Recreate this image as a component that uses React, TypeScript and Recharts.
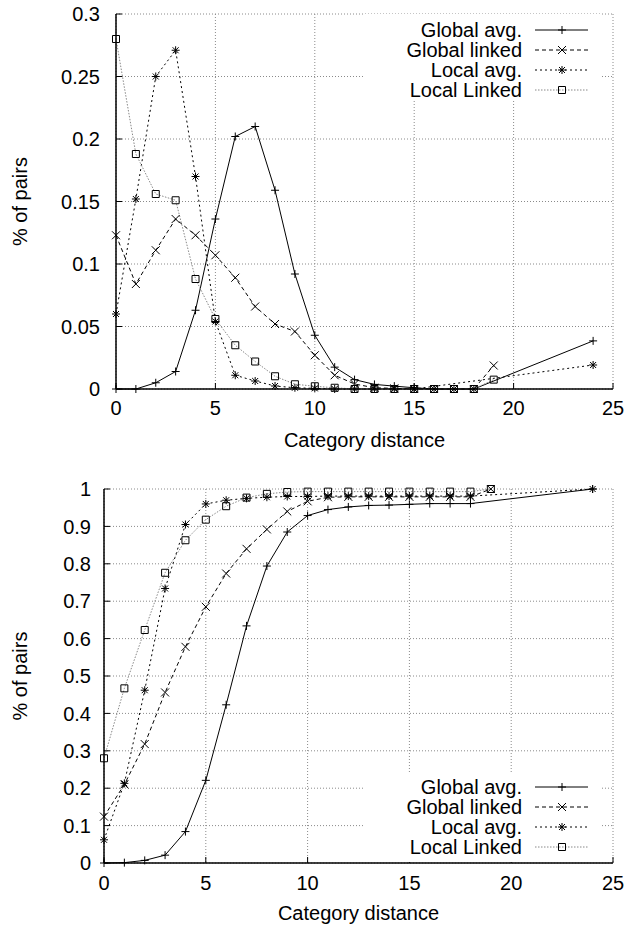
import React from "react";
import { LineChart, Line, XAxis, YAxis, CartesianGrid, Legend } from "recharts";

// x positions (category distance) used by the series
const xUpTo18And24 = [0, 1, 2, 3, 4, 5, 6, 7, 8, 9, 10, 11, 12, 13, 14, 15, 16, 17, 18, 24];
const xUpTo19 = [0, 1, 2, 3, 4, 5, 6, 7, 8, 9, 10, 11, 12, 13, 14, 15, 16, 17, 18, 19];
const xUpTo15And24 = [0, 1, 2, 3, 4, 5, 6, 7, 8, 9, 10, 11, 12, 13, 14, 15, 24];

// top panel: share of pairs per distance
const globalAvgShare = [0, 0, 0.005, 0.014, 0.063, 0.136, 0.202, 0.21, 0.159, 0.092, 0.043, 0.0175, 0.0075, 0.0037, 0.0023, 0.001, 0, 0, 0, 0.0385];
const globalLinkedShare = [0.123, 0.084, 0.111, 0.136, 0.123, 0.107, 0.089, 0.066, 0.052, 0.046, 0.027, 0.011, 0.004, 0.001, 0.0005, 0, 0, 0, 0, 0.0188];
const localAvgShare = [0.06, 0.152, 0.25, 0.271, 0.17, 0.054, 0.011, 0.0064, 0.0024, 0.001, 0.0005, 0, 0, 0, 0, 0, 0.0192];
const localLinkedShare = [0.28, 0.188, 0.156, 0.151, 0.088, 0.056, 0.035, 0.022, 0.0102, 0.0038, 0.0022, 0.001, 0, 0, 0, 0, 0, 0, 0, 0.0075];

// bottom panel: cumulative share
const globalAvgCum = [0, 0.001, 0.007, 0.021, 0.084, 0.221, 0.423, 0.634, 0.794, 0.885, 0.929, 0.945, 0.952, 0.956, 0.957, 0.959, 0.961, 0.961, 0.961, 1.0];
const globalLinkedCum = [0.124, 0.21, 0.318, 0.456, 0.578, 0.685, 0.774, 0.84, 0.892, 0.94, 0.967, 0.978, 0.979, 0.979, 0.979, 0.979, 0.979, 0.979, 0.979, 1.0];
const localAvgCum = [0.062, 0.213, 0.462, 0.734, 0.905, 0.96, 0.97, 0.975, 0.978, 0.98, 0.98, 0.981, 0.981, 0.981, 0.981, 0.981, 0.981, 0.981, 0.981, 1.0];
const localLinkedCum = [0.28, 0.467, 0.623, 0.776, 0.863, 0.918, 0.954, 0.977, 0.987, 0.992, 0.993, 0.993, 0.993, 0.993, 0.993, 0.993, 0.993, 0.993, 0.993, 1.0];

const xTicks = [0, 5, 10, 15, 20, 25];
const shareTicks = [0, 0.05, 0.1, 0.15, 0.2, 0.25, 0.3];
const cumTicks = [0, 0.1, 0.2, 0.3, 0.4, 0.5, 0.6, 0.7, 0.8, 0.9, 1];

const FONT = '"Liberation Sans", Arial, sans-serif';
const FS = 20;

const toPoints = (xs: number[], ys: number[]) => xs.map((x, i) => ({ x, y: ys[i] }));

type Marker = "plus" | "cross" | "star" | "square";

function markerPath(kind: Marker, cx: number, cy: number) {
  const r = 4;
  if (kind === "plus") return `M${cx - r},${cy}h${2 * r}M${cx},${cy - r}v${2 * r}`;
  if (kind === "cross") return `M${cx - r},${cy - r}l${2 * r},${2 * r}M${cx - r},${cy + r}l${2 * r},${-2 * r}`;
  if (kind === "star")
    return `M${cx - r},${cy}h${2 * r}M${cx},${cy - r}v${2 * r}M${cx - 3},${cy - 3}l6,6M${cx - 3},${cy + 3}l6,-6`;
  const s = 3.5;
  return `M${cx - s},${cy - s}h${2 * s}v${2 * s}h${-2 * s}z`;
}

const makeDot = (kind: Marker) => (props: any) => {
  const { cx, cy, index } = props;
  if (cx == null || cy == null) return <g key={index} />;
  return <path key={index} d={markerPath(kind, cx, cy)} stroke="#000" strokeWidth={1} fill="none" />;
};

const XTick = ({ x, y, payload }: any) => (
  <text x={x} y={y} dy="0.71em" textAnchor="middle" fontSize={FS} fontFamily={FONT} fill="#000">
    {payload.value}
  </text>
);

const YTick = ({ x, y, payload }: any) => (
  <text x={x} y={y} dy="0.355em" textAnchor="end" fontSize={FS} fontFamily={FONT} fill="#000">
    {payload.value}
  </text>
);

interface SeriesStyle {
  name: string;
  marker: Marker;
  stroke: string;
  dash?: string;
}

const seriesStyles: SeriesStyle[] = [
  { name: "Global avg.", marker: "plus", stroke: "#000" },
  { name: "Global linked", marker: "cross", stroke: "#000", dash: "4 3" },
  { name: "Local avg.", marker: "star", stroke: "#000", dash: "2 3" },
  { name: "Local Linked", marker: "square", stroke: "#888", dash: "1.5 1.5" },
];

const LegendBox = ({ paddingTop, height }: { paddingTop: number; height: number }) => (
  <div
    style={{
      background: "#fff",
      width: 237,
      height,
      paddingTop,
      boxSizing: "border-box",
      fontFamily: FONT,
      fontSize: FS,
      color: "#000",
    }}
  >
    {seriesStyles.map((s) => (
      <div key={s.name} style={{ display: "flex", alignItems: "center", height: 20 }}>
        <span style={{ width: 159, textAlign: "right", whiteSpace: "nowrap", lineHeight: "20px" }}>{s.name}</span>
        <svg width={53} height={20} style={{ marginLeft: 13, display: "block" }}>
          <line x1={0} x2={53} y1={10} y2={10} stroke={s.stroke} strokeDasharray={s.dash} strokeWidth={1} />
          <path d={markerPath(s.marker, 27, 10)} stroke="#000" strokeWidth={1} fill="none" />
        </svg>
      </div>
    ))}
  </div>
);

interface PanelProps {
  data: { x: number; y: number }[][];
  yDomain: [number, number];
  yTicks: number[];
  height: number;
  marginTop: number;
  yAxisWidth: number;
  xAxisHeight: number;
  xTickMargin: number;
  yTickMargin: number;
  xLabelOffset: number;
  legendTop: number;
  legendHeight: number;
  legendPad: number;
}

function Panel(p: PanelProps) {
  const axisLine = { stroke: "#000", strokeWidth: 1.5 };
  const tickLine = { stroke: "#000" };
  return (
    <LineChart width={631} height={p.height} margin={{ top: p.marginTop, right: 18, left: 0, bottom: 0 }}>
      <CartesianGrid stroke="#8a8a8a" strokeDasharray="1 2" />
      <XAxis
        dataKey="x"
        type="number"
        domain={[0, 25]}
        ticks={xTicks}
        interval={0}
        height={p.xAxisHeight}
        tick={<XTick />}
        tickSize={-6}
        tickMargin={p.xTickMargin}
        axisLine={axisLine}
        tickLine={tickLine}
        allowDuplicatedCategory={false}
        label={{
          value: "Category distance",
          position: "insideBottom",
          offset: p.xLabelOffset,
          style: { fill: "#000", fontSize: FS, fontFamily: FONT },
        }}
      />
      <XAxis
        xAxisId="top"
        orientation="top"
        type="number"
        domain={[0, 25]}
        ticks={xTicks}
        interval={0}
        height={0}
        tick={false}
        tickSize={-6}
        axisLine={axisLine}
        tickLine={tickLine}
      />
      <YAxis
        type="number"
        domain={p.yDomain}
        ticks={p.yTicks}
        interval={0}
        width={p.yAxisWidth}
        tick={<YTick />}
        tickSize={-6}
        tickMargin={p.yTickMargin}
        axisLine={axisLine}
        tickLine={tickLine}
        label={{
          value: "% of pairs",
          angle: -90,
          position: "insideLeft",
          offset: 20,
          style: { fill: "#000", fontSize: FS, fontFamily: FONT, textAnchor: "middle" },
        }}
      />
      <YAxis
        yAxisId="right"
        orientation="right"
        type="number"
        domain={p.yDomain}
        ticks={p.yTicks}
        interval={0}
        width={0}
        tick={false}
        tickSize={-6}
        axisLine={axisLine}
        tickLine={tickLine}
      />
      {seriesStyles.map((s, i) => (
        <Line
          key={s.name}
          data={p.data[i]}
          dataKey="y"
          name={s.name}
          type="linear"
          stroke={s.stroke}
          strokeWidth={1}
          strokeDasharray={s.dash}
          dot={makeDot(s.marker)}
          activeDot={false}
          isAnimationActive={false}
        />
      ))}
      <Legend
        layout="horizontal"
        verticalAlign="middle"
        align="center"
        wrapperStyle={{ left: 363, top: p.legendTop, width: 237, height: p.legendHeight }}
        content={() => <LegendBox paddingTop={p.legendPad} height={p.legendHeight} />}
      />
    </LineChart>
  );
}

export default function App() {
  const topData = [
    toPoints(xUpTo18And24, globalAvgShare),
    toPoints(xUpTo19, globalLinkedShare),
    toPoints(xUpTo15And24, localAvgShare),
    toPoints(xUpTo19, localLinkedShare),
  ];
  const bottomData = [
    toPoints(xUpTo18And24, globalAvgCum),
    toPoints(xUpTo19, globalLinkedCum),
    toPoints(xUpTo18And24, localAvgCum),
    toPoints(xUpTo19, localLinkedCum),
  ];
  return (
    <div style={{ position: "absolute", left: 0, top: 0, width: 631, height: 930, background: "#fff" }}>
      <div style={{ position: "absolute", left: 0, top: 0 }}>
        <Panel
          data={topData}
          yDomain={[0, 0.3]}
          yTicks={shareTicks}
          height={460}
          marginTop={14}
          yAxisWidth={116}
          xAxisHeight={71}
          xTickMargin={18}
          yTickMargin={22}
          xLabelOffset={13}
          legendTop={14}
          legendHeight={86}
          legendPad={6}
        />
      </div>
      <div style={{ position: "absolute", left: 0, top: 460 }}>
        <Panel
          data={bottomData}
          yDomain={[0, 1]}
          yTicks={cumTicks}
          height={470}
          marginTop={29}
          yAxisWidth={104}
          xAxisHeight={67}
          xTickMargin={19}
          yTickMargin={19}
          xLabelOffset={10}
          legendTop={313}
          legendHeight={89}
          legendPad={4}
        />
      </div>
    </div>
  );
}
